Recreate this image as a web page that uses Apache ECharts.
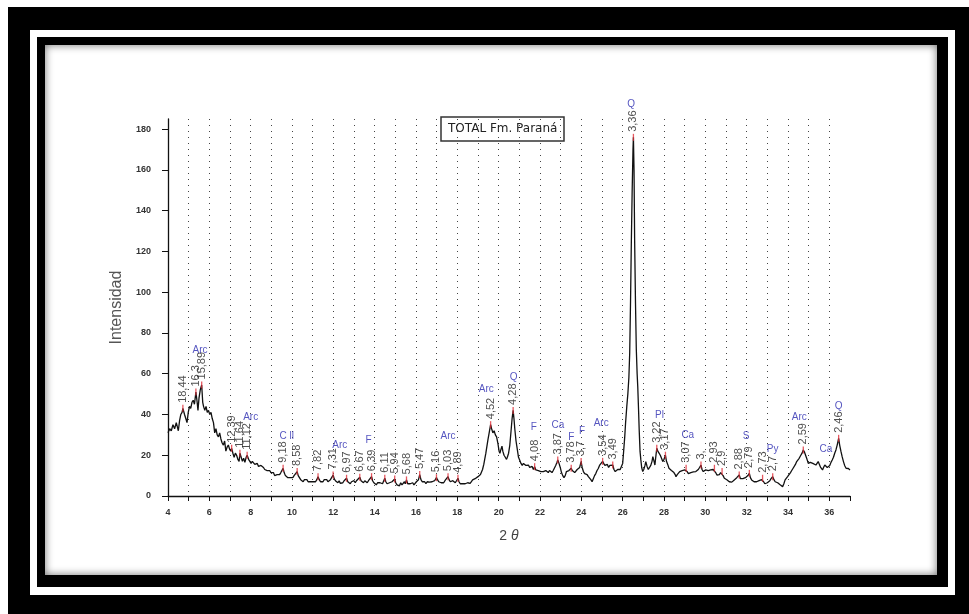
<!DOCTYPE html>
<html>
<head>
<meta charset="utf-8">
<script src="https://cdn.jsdelivr.net/npm/echarts@6/dist/echarts.min.js"></script>
<style>
  html, body { margin:0; padding:0; background:#fff; }
  body { width:969px; height:614px; position:relative; overflow:hidden; }
  .b { position:absolute; }
  #f1 { left:8px; top:7px; width:961px; height:607px; background:#000; }
  #f2 { left:30px; top:30px; width:925px; height:565px; background:#fff; }
  #f3 { left:37px; top:37px; width:911px; height:550px; background:#000; }
  #f4 { left:45px; top:45px; width:892px; height:530px; background:#fff; box-shadow: inset 0 0 9px rgba(0,0,0,0.55); }
  #chart { position:absolute; left:0; top:0; width:969px; height:614px; }
</style>
</head>
<body>
<div class="b" id="f1"></div>
<div class="b" id="f2"></div>
<div class="b" id="f3"></div>
<div class="b" id="f4"></div>
<div id="chart"></div>
<script>
// ---- data ----
const xTicks = [4,6,8,10,12,14,16,18,20,22,24,26,28,30,32,34,36];
const yTicks = [0,20,40,60,80,100,120,140,160,180];

// [2θ, intensity]
const scan = [
[4.00,31],[4.08,33],[4.16,32],[4.24,35],[4.32,33],[4.40,36],[4.45,34],[4.50,32],[4.56,37],[4.62,40],[4.68,41],[4.72,43],[4.80,40],[4.86,38],[4.92,36],[4.98,41],[5.04,44],[5.10,43],[5.16,46],[5.22,47],[5.28,45],[5.35,51],[5.40,47],[5.45,42],[5.50,48],[5.56,52],[5.63,54.5],[5.68,46],[5.72,44],[5.78,42],[5.84,44],[5.90,41],[5.96,42],[6.02,40],[6.08,41],[6.14,38],[6.20,36],[6.26,31],[6.32,33],[6.38,30],[6.44,29],[6.50,31],[6.56,28],[6.62,26],[6.68,25],[6.74,27],[6.80,22],[6.86,24],[6.92,25],[6.98,23],[7.04,22],[7.08,23.4],[7.14,21],[7.20,19],[7.26,21],[7.32,20],[7.38,18],[7.44,17],[7.48,21],[7.54,19],[7.60,17],[7.66,18.5],[7.72,16.5],[7.78,19],[7.83,20],[7.90,18],[7.96,17.5],[8.02,16],[8.08,17],[8.14,16.5],[8.20,15.5],[8.26,15],[8.32,16],[8.38,14.5],[8.44,14],[8.50,15],[8.56,15.5],[8.62,14],[8.68,13],[8.74,13.5],[8.80,12.5],[8.86,12],[8.92,12.5],[8.98,11.5],[9.04,11],[9.10,11.5],[9.16,10],[9.22,9.5],[9.28,10.5],[9.34,10],[9.40,10.5],[9.46,11.5],[9.52,12],[9.57,13.6],[9.62,11.5],[9.68,10],[9.74,9.5],[9.80,9],[9.86,8.5],[9.92,9],[9.98,9.5],[10.04,9],[10.10,10],[10.16,9.5],[10.25,12],[10.30,10],[10.36,9],[10.42,8],[10.48,7.5],[10.54,7],[10.60,8],[10.66,7.5],[10.72,8],[10.78,7],[10.84,6.2],[10.90,7],[10.96,6.5],[11.02,7],[11.08,7.5],[11.14,7],[11.20,8],[11.26,9.5],[11.32,8],[11.38,7],[11.44,7.5],[11.50,7],[11.56,8],[11.62,7.5],[11.68,8],[11.74,7],[11.80,7.5],[11.86,8],[11.92,7.5],[11.99,10.3],[12.04,8.5],[12.10,7.5],[12.16,8],[12.22,6.5],[12.28,7.5],[12.34,6.2],[12.40,7],[12.46,6.5],[12.52,7.5],[12.58,7],[12.64,8.7],[12.70,7],[12.76,6.5],[12.82,6],[12.88,7],[12.94,6.2],[13.00,7.5],[13.06,6.5],[13.12,7.5],[13.18,8],[13.28,9.2],[13.34,7.5],[13.40,7],[13.46,6.5],[13.52,7.5],[13.58,7],[13.64,6.5],[13.70,7.5],[13.76,8],[13.85,9.5],[13.90,7.5],[13.96,6.5],[14.02,6],[14.08,5.5],[14.14,6.5],[14.20,6],[14.26,6.5],[14.32,7],[14.38,6],[14.44,7.5],[14.49,8.7],[14.54,7],[14.60,6],[14.66,5.5],[14.72,6.5],[14.78,6],[14.84,7],[14.90,6.5],[14.97,8.3],[15.02,6.5],[15.08,5.5],[15.14,6],[15.20,5],[15.26,6.5],[15.32,5.5],[15.38,6],[15.44,7],[15.48,6],[15.54,7.9],[15.60,6],[15.66,5.2],[15.72,6],[15.78,5.5],[15.84,6.5],[15.90,5.5],[15.96,6],[16.02,7],[16.08,6.5],[16.12,8],[16.18,10.5],[16.24,8],[16.30,7],[16.36,6.5],[16.42,7],[16.48,6],[16.54,7],[16.60,6.2],[16.66,6.8],[16.72,6],[16.78,7],[16.84,6.5],[16.90,7.5],[16.99,9],[17.04,8],[17.10,7],[17.16,7.5],[17.22,6.5],[17.28,7],[17.34,6.5],[17.40,7.5],[17.46,8],[17.55,9.5],[17.60,8],[17.66,7],[17.72,6.5],[17.78,7.5],[17.84,7],[17.90,6.5],[17.96,7.5],[18.03,8.7],[18.08,7],[18.14,6],[18.20,5.4],[18.26,6],[18.32,5.5],[18.38,6],[18.44,5.5],[18.50,6.5],[18.56,6],[18.62,6.2],[18.68,7],[18.74,7.9],[18.80,8],[18.86,8.5],[18.92,8],[19.00,9.5],[19.06,10],[19.12,10.5],[19.16,11.1],[19.22,13],[19.28,15.5],[19.32,17.7],[19.38,21],[19.44,25],[19.48,27.5],[19.54,31],[19.61,35],[19.66,33],[19.72,31],[19.78,32],[19.84,30],[19.90,29],[19.96,26],[20.02,22],[20.06,21],[20.10,22.5],[20.16,24.5],[20.20,22],[20.26,20],[20.32,19],[20.38,18],[20.42,19],[20.48,21],[20.54,25],[20.60,32],[20.65,38],[20.70,42],[20.74,38],[20.78,33],[20.84,27],[20.90,23],[20.96,19],[21.02,17.5],[21.08,16],[21.14,15],[21.20,16],[21.26,15.5],[21.32,15],[21.38,14.5],[21.44,15.2],[21.50,14],[21.56,13.5],[21.62,14.5],[21.68,13],[21.74,14.4],[21.80,12.8],[21.86,13.5],[21.92,12.5],[21.98,13],[22.04,12],[22.10,12.5],[22.16,12],[22.22,11.5],[22.28,12.5],[22.34,12],[22.40,11.5],[22.46,12.5],[22.52,12],[22.58,11.5],[22.64,12.5],[22.70,13],[22.76,15],[22.82,16.5],[22.86,17.7],[22.92,16],[22.98,14],[23.04,11.5],[23.10,10],[23.16,9],[23.22,10],[23.28,12],[23.34,11.5],[23.40,12.5],[23.46,13],[23.51,13.6],[23.56,12.5],[23.62,12],[23.68,11.5],[23.74,12],[23.80,13],[23.86,12.5],[23.92,14],[23.99,16.9],[24.04,14],[24.10,12],[24.16,11],[24.22,11.5],[24.28,10.5],[24.34,9.5],[24.40,8.7],[24.46,8],[24.52,7],[24.58,8.5],[24.64,10],[24.70,11],[24.76,12.5],[24.82,13.5],[24.88,15],[24.94,15.5],[25.03,17],[25.08,16],[25.14,15],[25.20,14.4],[25.26,15.5],[25.32,14],[25.38,15],[25.44,14.5],[25.52,15.2],[25.58,13],[25.64,12],[25.70,12.5],[25.76,13],[25.82,12.8],[25.88,13],[25.94,13.6],[26.00,16],[26.04,21],[26.10,29],[26.14,35.7],[26.20,44],[26.25,50],[26.30,58],[26.34,70],[26.38,95],[26.42,125],[26.46,150],[26.50,170],[26.52,176],[26.55,160],[26.58,125],[26.62,95],[26.66,72],[26.70,60],[26.73,53.7],[26.77,42],[26.80,32.4],[26.84,22],[26.88,17.7],[26.92,14],[26.97,12],[27.02,13],[27.08,15],[27.12,16.9],[27.18,14.5],[27.24,13],[27.30,12.8],[27.36,15],[27.42,17],[27.46,19.3],[27.52,17],[27.56,15.2],[27.60,19],[27.65,23.4],[27.70,22],[27.76,21],[27.82,20],[27.88,18.5],[27.94,16.9],[28.00,18],[28.07,20],[28.12,17],[28.18,15.5],[28.24,13.6],[28.30,14],[28.36,12.5],[28.42,12],[28.48,11.5],[28.54,10.5],[28.58,9.5],[28.64,10.5],[28.70,11.1],[28.76,12],[28.82,11.5],[28.88,12.5],[28.94,12],[29.00,12.8],[29.07,13.6],[29.12,12],[29.18,11],[29.24,10.3],[29.30,11.5],[29.36,11.1],[29.42,11.8],[29.48,11],[29.54,12],[29.60,12.5],[29.66,13],[29.72,14],[29.79,15.2],[29.84,13],[29.90,12],[29.96,12.5],[30.02,12.8],[30.08,12],[30.14,12.5],[30.20,12],[30.26,12.8],[30.32,12.5],[30.38,13],[30.44,13.6],[30.50,11.5],[30.56,10.3],[30.62,11],[30.68,10.5],[30.74,11.5],[30.81,12],[30.86,10],[30.92,8.7],[30.98,9],[31.04,8],[31.10,7.5],[31.16,7],[31.22,6.2],[31.28,6.8],[31.34,7.5],[31.40,7.9],[31.46,8.5],[31.52,9],[31.58,9.5],[31.64,10.3],[31.70,8.5],[31.76,7.9],[31.82,8.5],[31.88,8],[31.94,9],[32.00,9.5],[32.06,10],[32.13,11.1],[32.18,9],[32.24,7.9],[32.30,7.5],[32.36,7],[32.42,6.2],[32.48,7],[32.54,6.5],[32.60,7.5],[32.66,7],[32.72,8],[32.77,8.7],[32.82,7],[32.88,6],[32.94,5.4],[33.00,6.5],[33.06,7],[33.12,7.5],[33.18,8.5],[33.26,9.5],[33.32,8],[33.38,7],[33.44,7.5],[33.50,6.5],[33.56,6],[33.62,5.5],[33.68,5],[33.74,4.6],[33.80,6],[33.86,7.9],[33.92,8.5],[33.98,9.5],[34.06,10.3],[34.12,11.5],[34.18,12.5],[34.24,13.5],[34.30,14.4],[34.36,15.5],[34.42,16.9],[34.48,17.5],[34.54,18.5],[34.62,20],[34.68,21],[34.74,22.6],[34.80,21.5],[34.86,21],[34.92,18],[34.98,16],[35.03,15.2],[35.08,16.5],[35.14,16.9],[35.20,16],[35.26,15.5],[35.35,15.2],[35.40,16],[35.46,16.9],[35.52,15.5],[35.58,14],[35.67,12.8],[35.72,14],[35.78,15.2],[35.84,14.5],[35.90,14],[35.96,14.4],[36.02,15],[36.08,16.5],[36.14,17.7],[36.20,19],[36.26,21],[36.32,22.6],[36.38,25],[36.45,28.3],[36.50,25],[36.56,22],[36.62,19.3],[36.68,17],[36.74,15],[36.81,13.6],[36.86,14.4],[36.92,13.5],[37.00,12.8]
];

// identified peaks: [2θ, intensity, d-spacing label]
const peaks = [
[4.72,43,'18,44'],[5.35,51,'16,3'],[5.63,54.5,'15,89'],[7.08,23.4,'12,39'],[7.48,21,'11,64'],[7.83,20,'11,12'],
[9.57,13.6,'9,18'],[10.25,12,'8,58'],[11.26,9.5,'7,82'],[11.99,10.3,'7,31'],[12.64,8.7,'6,97'],[13.28,9.2,'6,67'],
[13.85,9.5,'6,39'],[14.49,8.7,'6,11'],[14.97,8.3,'5,94'],[15.54,7.9,'5,68'],[16.18,10.5,'5,47'],[16.99,9,'5,16'],
[17.55,9.5,'5,03'],[18.03,8.7,'4,89'],[19.61,35,'4,52'],[20.70,42,'4,28'],[21.74,14.4,'4,08'],[22.86,17.7,'3,87'],
[23.51,13.6,'3,78'],[23.99,16.9,'3,7'],[25.03,17,'3,54'],[25.52,15.2,'3,49'],[26.52,176,'3,36'],[27.65,23.4,'3,22'],
[28.07,20,'3,17'],[29.07,13.6,'3,07'],[29.79,15.2,'3,'],[30.44,13.6,'2,93'],[30.81,12,'2,9'],[31.64,10.3,'2,88'],
[32.13,11.1,'2,79'],[32.77,8.7,'2,73'],[33.26,9.5,'2,7'],[34.74,22.6,'2,59'],[36.45,28.3,'2,46']
];

// mineral tags: [2θ, intensity level, name]
const minerals = [
[5.55,71.7,'Arc'],[8.0,38.7,'Arc'],[9.74,29.1,'C ll'],[12.31,24.7,'Arc'],[13.71,27.5,'F'],[17.55,29.1,'Arc'],
[19.4,52.4,'Arc'],[20.72,58.3,'Q'],[21.7,33.7,'F'],[22.87,34.5,'Ca'],[23.51,28.8,'F'],[24.03,31.6,'F'],
[24.96,35.7,'Arc'],[26.41,192,'Q'],[27.78,39.8,'Pl'],[29.15,30,'Ca'],[31.97,29.1,'S'],[33.26,22.9,'Py'],
[34.55,38.7,'Arc'],[35.83,22.9,'Ca'],[36.45,43.9,'Q']
];

const titleText = 'TOTAL Fm. Paraná';

const chart = echarts.init(document.getElementById('chart'), null, {renderer:'canvas'});
const font = 'Liberation Sans, Arial, sans-serif';
chart.setOption({
  animation: false,
  backgroundColor: 'transparent',
  title: {
    text: titleText, left: 441, top: 117, padding: [6, 7],
    borderColor: '#333', borderWidth: 1.5,
    textStyle: {fontFamily: 'DejaVu Sans', fontSize: 12, fontWeight: 'normal', color: '#222'}
  },
  grid: {left: 168, right: 119, top: 119, bottom: 118},
  xAxis: {
    type: 'value', min: 4, max: 37, interval: 1,
    name: '2 {t|θ}', nameLocation: 'middle', nameGap: 33,
    nameTextStyle: {fontFamily: font, fontSize: 14, color: '#444',
      rich: {t: {fontFamily: font, fontSize: 14, fontStyle: 'italic', color: '#444'}}},
    axisLine: {lineStyle: {color: '#111', width: 1.3}},
    axisTick: {length: 5, lineStyle: {color: '#111', width: 1}},
    axisLabel: {
      formatter: v => (xTicks.indexOf(v) >= 0 ? String(v) : ''),
      margin: 12, fontFamily: font, fontSize: 9, fontWeight: 'bold', color: '#333'
    },
    splitLine: {show: true, showMinLine: false, showMaxLine: false,
      lineStyle: {type: [1, 5], color: '#444', width: 1}}
  },
  yAxis: {
    type: 'value', min: 0, max: 185, interval: 20,
    name: 'Intensidad', nameLocation: 'middle', nameGap: 37, nameRotate: 90,
    nameTextStyle: {fontFamily: font, fontSize: 16, color: '#555'},
    axisLine: {show: true, lineStyle: {color: '#111', width: 1.3}},
    axisTick: {show: true, length: 6, customValues: yTicks, lineStyle: {color: '#111', width: 1}},
    axisLabel: {
      customValues: yTicks,
      formatter: v => (yTicks.indexOf(v) >= 0 ? String(v) : ''),
      margin: 17, fontFamily: font, fontSize: 9, fontWeight: 'bold', color: '#333'
    },
    splitLine: {show: false}
  },
  series: [
    {
      type: 'line', data: scan, showSymbol: false, symbol: 'none',
      lineStyle: {color: '#111', width: 1.3}, z: 2, silent: true
    },
    {
      type: 'scatter', z: 3, clip: false, silent: true,
      data: peaks.map(p => ({value: [p[0], p[1]], name: p[2]})),
      symbol: 'rect', symbolSize: [1.3, 7], symbolOffset: [0, 0],
      itemStyle: {color: '#e0303a'},
      label: {
        show: true, formatter: '{b}', position: 'top', distance: 2,
        rotate: 90, align: 'left', verticalAlign: 'middle',
        fontFamily: font, fontSize: 11, color: '#222'
      }
    },
    {
      type: 'scatter', z: 4, clip: false, silent: true,
      data: minerals.map(m => ({value: [m[0], m[1]], name: m[2]})),
      symbolSize: 0,
      label: {
        show: true, formatter: '{b}', position: 'inside',
        fontFamily: font, fontSize: 10, color: '#2b2bb0'
      }
    }
  ]
});
</script>
</body>
</html>
